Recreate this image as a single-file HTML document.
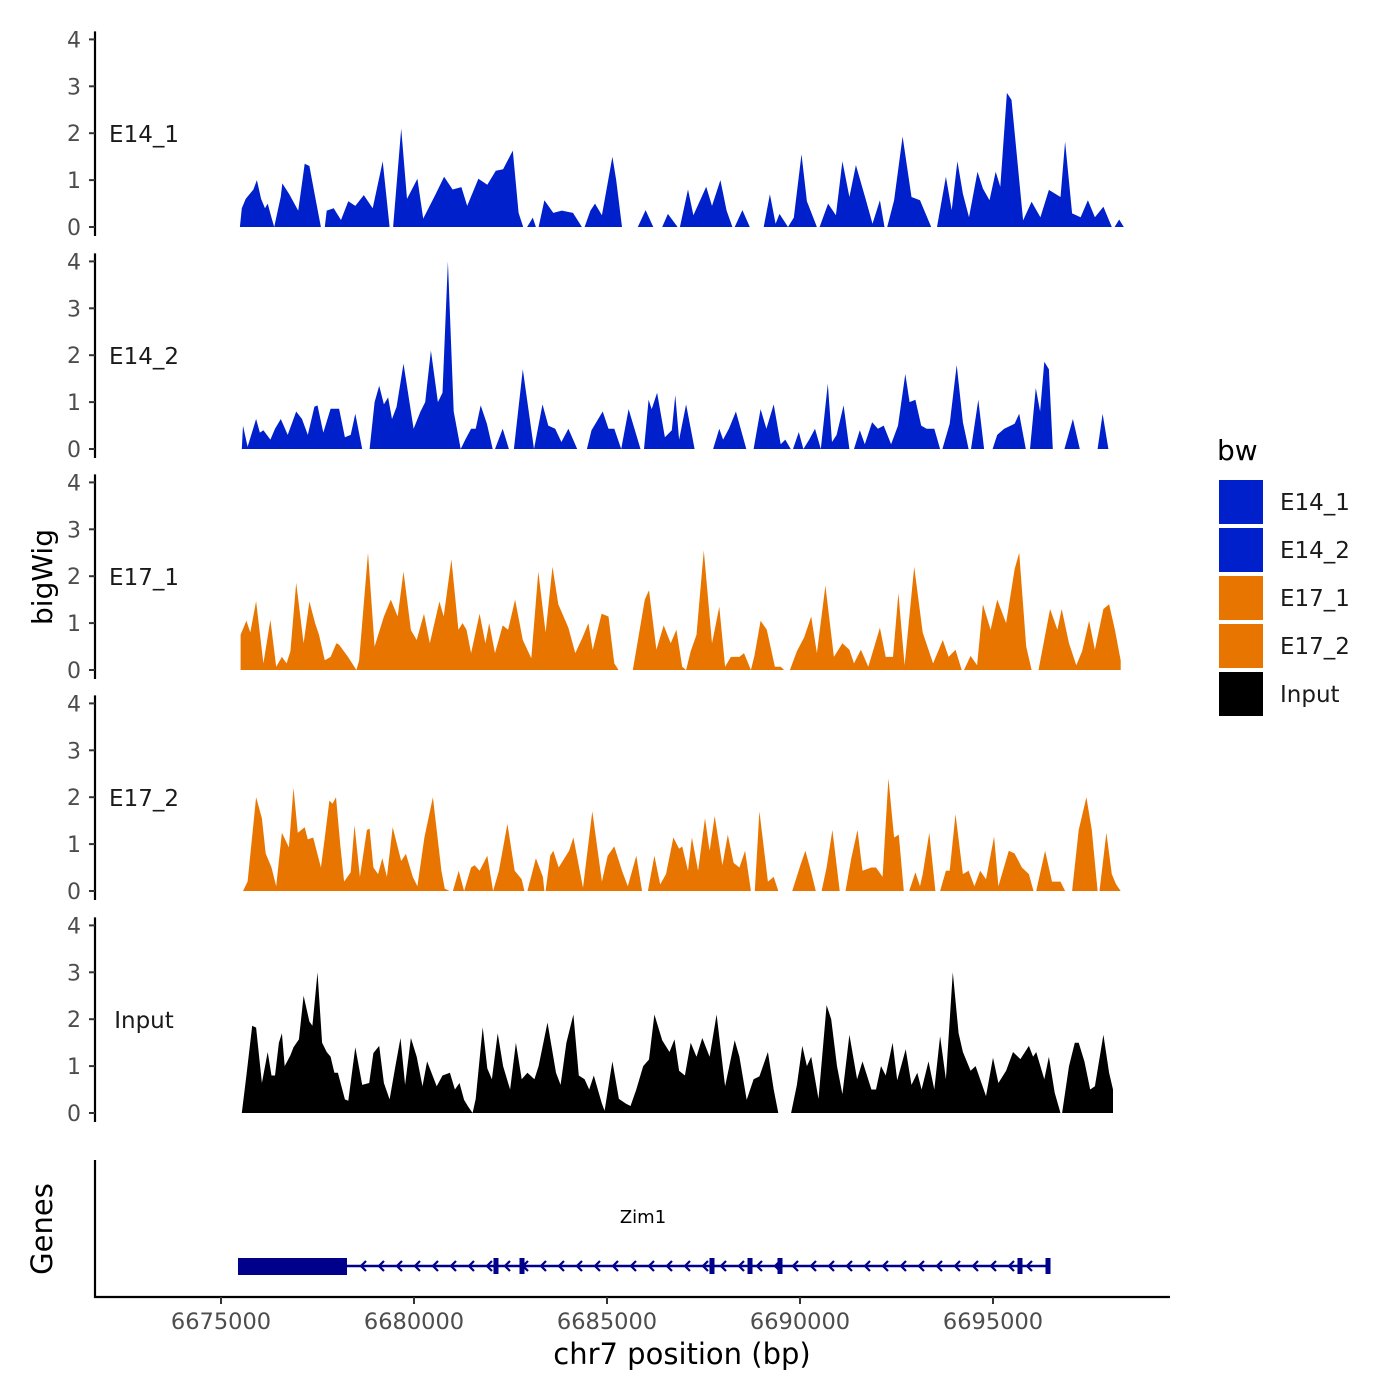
<!DOCTYPE html>
<html><head><meta charset="utf-8"><style>
body{margin:0;background:#fff}
svg{display:block}
text{font-family:"DejaVu Sans","Liberation Sans",sans-serif}
</style></head><body>
<svg id="chart" width="1400" height="1400" viewBox="0 0 1400 1400" xmlns="http://www.w3.org/2000/svg">
<g id="panels"></g>
<g id="genes"></g>
<g id="legend"></g>
<text transform="translate(52,577) rotate(-90)" text-anchor="middle" font-size="28">bigWig</text>
<text transform="translate(52,1229) rotate(-90)" text-anchor="middle" font-size="29">Genes</text>
<text x="682" y="1364" text-anchor="middle" font-size="29">chr7 position (bp)</text>
</svg>
<script>
const NS="http://www.w3.org/2000/svg";
const trackNames=["E14_1","E14_2","E17_1","E17_2","Input"];
const trackColors=["#0020CC","#0020CC","#E87500","#E87500","#000000"];
const yTicks=[0,1,2,3,4];
const xTicks=[6675000,6680000,6685000,6690000,6695000];
const axisStartBp=6675000;
// track positions are kb offsets from this origin (bp); null = gap
const dataOriginBp=6675389;
const pos1=[0.10,0.15,0.25,0.45,0.54,0.65,0.75,0.82,0.92,0.99,1.16,1.20,1.38,1.61,1.78,1.90,2.05,2.20,null,2.30,2.35,2.53,2.72,2.91,3.09,3.31,3.54,3.80,3.98,null,4.07,4.28,4.43,4.70,4.85,5.17,5.39,5.61,5.84,5.99,6.28,6.51,6.73,6.92,7.17,7.32,7.44,null,7.54,7.69,7.77,null,7.84,7.99,8.22,8.44,8.73,8.96,null,9.03,9.18,9.30,9.48,9.75,9.85,10.00,null,10.41,10.61,10.81,null,11.04,11.19,11.44,null,11.50,11.71,11.85,12.18,12.33,12.55,12.71,12.86,null,12.92,13.12,13.31,null,13.67,13.83,13.98,14.08,14.30,14.45,14.65,14.79,15.05,null,15.12,15.34,15.54,15.71,15.89,16.06,16.31,16.49,16.68,16.80,null,16.87,17.05,17.27,17.50,17.72,18.01,null,18.16,18.39,18.54,18.69,18.83,18.99,19.21,19.35,19.52,19.68,19.80,19.97,20.09,20.39,20.61,20.84,21.06,21.36,21.48,21.66,21.88,22.07,22.25,22.47,22.69,null,22.76,22.88,23.0];
const val1=[0,0.4,0.6,0.8,1.0,0.6,0.4,0.5,0.2,0,0.65,0.93,0.7,0.35,1.35,1.3,0.65,0,null,0,0.35,0.4,0.15,0.55,0.45,0.68,0.4,1.4,0,null,0,2.1,0.6,1.03,0.18,0.7,1.07,0.8,0.85,0.45,1.03,0.9,1.2,1.23,1.63,0.3,0,null,0,0.2,0,null,0,0.57,0.3,0.35,0.3,0,null,0,0.35,0.5,0.25,1.5,1.0,0,null,0,0.36,0,null,0,0.28,0,null,0,0.8,0.25,0.86,0.45,1.0,0.35,0,null,0,0.36,0,null,0,0.7,0.07,0.28,0,0.2,1.55,0.55,0,null,0,0.5,0.25,1.4,0.64,1.32,0.6,0.07,0.57,0,null,0,0.57,1.93,0.64,0.57,0,null,0,1.07,0.36,1.4,0.71,0.21,1.18,0.82,0.57,1.18,0.86,2.86,2.71,0.14,0.54,0.21,0.79,0.64,1.82,0.29,0.21,0.57,0.21,0.43,0,null,0,0.16,0];
const pos2=[0.15,0.18,0.30,0.52,0.62,0.71,0.89,1.01,1.16,1.34,1.56,1.71,1.86,2.03,2.11,2.26,2.45,2.67,2.82,2.97,3.09,3.27,null,3.46,3.59,3.71,3.83,3.94,4.04,4.16,4.34,4.60,4.78,4.90,5.05,5.23,5.35,5.49,5.64,5.82,5.94,6.09,6.21,6.34,6.50,6.65,null,6.71,6.91,7.07,null,7.20,7.43,7.72,7.94,8.09,8.27,8.43,8.61,8.84,null,9.09,9.21,9.50,9.65,9.80,9.98,10.17,10.48,null,10.57,10.69,10.77,10.91,11.11,11.29,11.38,11.48,11.66,11.88,null,12.36,12.52,12.62,12.77,12.95,13.22,null,13.41,13.59,13.74,13.93,14.11,14.23,14.37,null,14.43,14.58,14.70,14.85,15.00,15.15,15.33,15.44,15.56,15.74,15.89,null,16.01,16.16,16.29,16.48,16.63,16.78,16.97,17.15,17.34,17.45,17.60,17.75,17.89,18.09,18.24,null,18.30,18.49,18.67,18.83,18.98,null,19.04,19.23,19.38,null,19.60,19.72,19.90,20.17,20.29,20.46,20.57,20.72,20.83,20.94,21.06,21.16,null,21.46,21.68,21.86,null,22.32,22.45,22.60];
const val2=[0,0.5,0.05,0.64,0.35,0.4,0.2,0.43,0.64,0.3,0.8,0.64,0.3,0.9,0.93,0.35,0.86,0.86,0.25,0.3,0.75,0,null,0,1.0,1.35,0.95,1.1,0.64,0.9,1.82,0.43,0.8,1.0,2.1,1.0,1.2,4.0,0.8,0,0.2,0.43,0.43,0.93,0.54,0,null,0,0.43,0,null,0,1.7,0,0.95,0.5,0.43,0.15,0.43,0,null,0,0.4,0.8,0.43,0.43,0,0.85,0,null,0,1.05,0.85,1.2,0.25,0.4,1.15,0.2,0.95,0,null,0,0.43,0.2,0.43,0.8,0,null,0,0.85,0.43,0.95,0.1,0.2,0,null,0,0.36,0,0.2,0.43,0,1.39,0.15,0.3,0.93,0,null,0,0.4,0.1,0.57,0.43,0.5,0.1,0.5,1.6,1.0,1.05,0.5,0.43,0.43,0,null,0,0.54,1.79,0.57,0,null,0,1.05,0,null,0,0.3,0.43,0.54,0.75,0,0,1.3,0.8,1.86,1.7,0,null,0,0.64,0,null,0,0.75,0];
const pos3=[0.12,0.27,0.37,0.52,0.71,0.89,1.04,1.19,1.31,1.41,1.56,1.75,1.90,2.05,2.15,2.30,2.45,2.60,2.67,2.90,3.12,3.19,3.42,3.59,3.83,4.01,4.19,4.34,4.53,4.68,4.87,5.02,5.27,5.38,5.58,5.76,5.87,5.97,6.09,6.31,6.46,6.56,6.71,6.91,7.05,7.23,7.43,7.65,7.83,8.02,8.20,8.35,8.61,8.79,8.98,9.13,9.24,9.47,9.65,9.80,9.91,null,10.28,10.37,10.59,10.70,10.89,11.08,11.26,11.41,11.56,11.66,11.78,11.93,12.12,12.33,12.52,12.67,12.82,13.04,13.16,13.34,13.43,13.59,13.75,13.96,14.11,14.20,null,14.35,14.53,14.72,14.90,15.05,15.27,15.49,15.71,15.89,16.01,16.19,16.38,16.68,16.83,17.02,17.16,17.32,17.57,17.79,18.06,18.31,18.46,18.64,18.80,null,18.86,19.03,19.20,19.35,19.55,19.72,19.95,20.17,20.29,20.47,20.61,null,20.79,21.09,21.28,21.39,21.58,21.77,21.92,22.10,22.25,22.47,22.62,22.77,22.92];
const val3=[0.75,1.05,0.8,1.47,0.14,1.07,0.07,0.28,0.14,0.4,1.86,0.57,1.46,1.0,0.75,0.21,0.28,0.57,0.54,0.28,0,0.2,2.5,0.5,1.14,1.5,1.14,2.1,0.85,0.64,1.2,0.57,1.46,1.14,2.36,0.86,1.0,0.86,0.36,1.2,0.57,1.0,0.36,0.95,0.86,1.5,0.64,0.25,2.1,0.8,2.2,1.4,0.9,0.36,0.7,1.0,0.43,1.2,1.14,0.14,0,null,0,0.43,1.5,1.7,0.43,0.95,0.57,0.86,0.07,0,0.4,0.75,2.55,0.57,1.35,0.07,0.28,0.28,0.36,0,0.3,1.05,0.86,0.07,0.07,0,null,0,0.4,0.7,1.14,0.36,1.8,0.28,0.57,0.43,0.14,0.43,0.07,0.9,0.28,0.28,1.64,0.1,2.2,0.8,0.14,0.64,0.28,0.43,0,null,0,0.3,0.1,1.4,0.86,1.5,1.0,2.15,2.5,0.5,0,null,0,1.3,0.86,1.3,0.57,0.1,0.4,1.05,0.43,1.3,1.4,0.86,0.2];
const pos4=[0.18,0.30,0.52,0.67,0.77,0.92,1.04,1.19,1.37,1.49,1.60,1.78,1.86,2.00,2.20,2.30,2.42,2.50,2.59,2.70,2.80,2.97,3.07,3.21,3.39,3.46,3.56,3.68,3.79,3.91,4.06,4.28,4.40,4.58,4.70,4.88,5.10,5.32,5.41,5.53,null,5.62,5.77,5.91,6.09,6.18,6.31,6.51,6.66,6.81,7.03,7.22,7.40,7.47,null,7.55,7.77,7.95,7.99,null,8.02,8.14,8.22,8.36,8.63,8.74,8.99,9.23,9.48,9.63,9.80,10.00,10.15,10.37,10.52,null,10.67,10.84,10.99,11.14,11.33,11.48,11.56,11.71,11.81,11.97,12.15,12.27,12.40,12.60,12.74,12.89,13.04,13.19,13.34,null,13.44,13.56,13.78,13.93,14.05,null,14.41,14.63,14.75,14.90,15.02,null,15.17,15.30,15.45,15.64,null,15.79,15.94,16.10,16.23,16.46,16.58,16.75,16.90,17.05,17.17,17.30,null,17.44,17.60,17.72,17.79,17.96,18.12,null,18.24,18.39,18.49,18.64,18.83,18.98,19.13,19.28,19.43,19.64,19.75,20.02,20.17,20.36,20.54,20.66,null,20.73,20.96,21.14,21.36,21.48,null,21.66,21.83,22.03,22.17,22.32,null,22.37,22.55,22.69,22.80,22.92];
const val4=[0,0.2,2.0,1.55,0.8,0.5,0.1,1.24,0.93,2.2,1.24,1.36,1.1,1.14,0.5,1.14,1.93,1.86,2.0,1.0,0.2,0.4,1.4,0.3,1.3,1.33,0.5,0.36,0.7,0.3,1.36,0.64,0.79,0.3,0.1,1.14,2.0,0.43,0.05,0,null,0,0.43,0,0.5,0.55,0.43,0.75,0,0.43,1.43,0.43,0.25,0,null,0,0.7,0.3,0,null,0,0.75,0.86,0.5,0.86,1.14,0.07,1.7,0.2,0.75,0.95,0.43,0.1,0.75,0,null,0,0.75,0.14,0.36,1.14,0.9,0.95,0.43,1.14,0.43,1.55,0.86,1.6,0.55,1.2,0.6,0.5,0.86,0,null,0,1.7,0.2,0.3,0,null,0,0.57,0.86,0.4,0,null,0,0.5,1.3,0,null,0,0.7,1.3,0.43,0.5,0.5,0.3,2.4,1.14,1.2,0,null,0,0.4,0.1,0.36,1.24,0,null,0,0.43,0.43,1.64,0.36,0.43,0.1,0.43,0.25,1.16,0.1,0.86,0.8,0.5,0.36,0,null,0,0.86,0.2,0.2,0,null,0,1.3,2.0,1.3,0,null,0,1.24,0.36,0.14,0];
const pos5=[0.15,0.27,0.42,0.52,0.67,0.82,0.92,1.01,1.11,1.19,1.26,1.41,1.49,1.63,1.75,1.90,1.98,2.11,2.23,2.35,2.45,2.55,2.64,2.82,2.91,3.09,3.27,3.45,3.56,3.71,3.83,3.98,4.13,4.26,4.38,4.53,4.68,4.83,4.95,5.20,5.35,5.54,5.67,5.79,5.91,6.01,6.13,6.21,6.39,6.51,6.63,6.78,6.92,7.10,7.25,7.40,7.55,7.73,7.84,8.07,8.29,8.41,8.56,8.74,8.88,9.03,9.15,9.27,9.48,9.55,9.75,9.92,10.10,10.22,10.37,10.55,10.70,10.84,11.04,11.23,11.36,11.48,11.63,11.78,11.93,12.08,12.27,12.45,12.67,12.78,12.92,13.04,13.23,13.41,13.56,13.78,13.93,14.05,null,14.38,14.53,14.67,14.79,14.90,15.09,15.30,15.42,15.57,15.71,15.89,16.09,16.23,16.46,16.58,16.71,16.83,17.01,17.13,17.35,17.50,17.65,17.76,17.94,18.09,18.24,18.39,18.57,18.72,18.83,19.03,19.16,19.43,19.61,19.75,19.95,20.13,20.32,20.54,20.65,20.73,20.94,21.06,21.21,21.36,null,21.40,21.58,21.73,21.83,21.98,22.13,22.25,22.47,22.62,22.72];
const val5=[0,0.8,1.86,1.82,0.64,1.3,0.8,0.8,1.5,1.7,1.0,1.23,1.4,1.57,2.5,1.95,1.86,3.0,1.5,1.3,1.2,0.86,0.86,0.29,0.26,1.4,0.6,0.64,1.28,1.43,0.64,0.29,1.0,1.6,0.6,1.6,1.2,0.57,1.1,0.57,0.8,0.86,0.5,0.64,0.28,0.14,0,0.3,1.83,0.95,0.72,1.7,1.0,0.5,1.5,0.72,0.86,0.72,1.0,1.93,0.86,0.6,1.5,2.1,0.8,0.72,0.5,0.8,0.2,0.05,1.1,0.3,0.2,0.15,0.5,1.0,1.14,2.1,1.55,1.3,1.57,0.9,0.8,1.5,1.2,1.6,1.2,2.1,0.57,1.0,1.55,1.2,0.28,0.72,0.78,1.3,0.5,0,null,0,0.6,1.43,1.0,1.2,0.3,2.3,2.0,1.0,0.4,1.67,0.72,1.1,0.5,0.5,1.0,0.8,1.5,0.7,1.36,0.6,0.86,0.5,1.1,0.5,1.64,0.72,3.0,1.7,1.3,0.9,1.0,0.36,1.18,0.64,0.9,1.3,1.15,1.43,1.2,1.3,0.72,1.2,0.43,0,null,0,1.0,1.5,1.5,1.1,0.5,0.57,1.67,0.86,0.5];
const trackPos=[pos1,pos2,pos3,pos4,pos5];
const trackVal=[val1,val2,val3,val4,val5];
// gene model (bp)
const geneStart=6675440, geneEnd=6696425, cdsEnd=6678264;
const exonTicks=[6682124,6682798,6687720,6688705,6689482,6695699,6696425];
const geneName="Zim1";

const pxPerBp=0.0386, x0=221;
function xScale(bp){return x0+(bp-axisStartBp)*pxPerBp;}
function xData(kb){return xScale(dataOriginBp+kb*1000);}
const panelZero=[227,449,670,891,1113], unitPx=46.9;
function yScale(p,v){return panelZero[p]-v*unitPx;}

const panels=document.getElementById('panels');
function mk(tag,attrs,parent){const e=document.createElementNS(NS,tag);for(const k in attrs)e.setAttribute(k,attrs[k]);parent.appendChild(e);return e;}

for(let p=0;p<5;p++){
  const g=mk('g',{},panels);
  
  
  const ax=mk('line',{x1:95,x2:95,y1:yScale(p,4)-8,y2:yScale(p,0)+9,stroke:'#000','stroke-width':2.2},g);
  
  
  yTicks.forEach(t=>{
    const y=yScale(p,t);
    const tk=mk('line',{x1:89,x2:95,y1:y,y2:y,stroke:'#333','stroke-width':2},g);
    
    
    const tl=mk('text',{x:81,y:y+8,'text-anchor':'end','font-size':22,fill:'#4d4d4d'},g);
    tl.textContent=t;
    
    
  });
  const lab=mk('text',{x:144,y:yScale(p,2)+9,'text-anchor':'middle','font-size':23,fill:'#1a1a1a'},g);
  lab.textContent=trackNames[p];
  
  
  const P=trackPos[p],V=trackVal[p];
  let d='',seg=[];
  function flush(){if(seg.length<2){seg=[];return;}
    d+='M'+xData(seg[0][0]).toFixed(1)+','+yScale(p,0);
    seg.forEach(s=>{d+='L'+xData(s[0]).toFixed(1)+','+yScale(p,s[1]).toFixed(1);});
    d+='L'+xData(seg[seg.length-1][0]).toFixed(1)+','+yScale(p,0)+'Z';seg=[];}
  for(let i=0;i<P.length;i++){if(P[i]===null){flush();continue;}seg.push([P[i],V[i]]);}
  flush();
  const area=mk('path',{d:d,fill:trackColors[p]},g);
  
  
}

// gene panel
const gg=document.getElementById('genes');
const gax=mk('line',{x1:95,x2:95,y1:1160,y2:1298,stroke:'#000','stroke-width':2.2},gg);


const xax=mk('line',{x1:94,x2:1170,y1:1297,y2:1297,stroke:'#000','stroke-width':2.2},gg);


xTicks.forEach(t=>{
  const x=xScale(t);
  const tk=mk('line',{x1:x,x2:x,y1:1297,y2:1304,stroke:'#333','stroke-width':2},gg);
  
  
  const tl=mk('text',{x:x,y:1329,'text-anchor':'middle','font-size':22.5,fill:'#4d4d4d'},gg);
  tl.textContent=t;
  
  
});
const gy=1266, gc='#00008B';
const gl=mk('line',{x1:xScale(geneStart),x2:xScale(geneEnd),y1:gy,y2:gy,stroke:gc,'stroke-width':2.5},gg);


const cds=mk('rect',{x:xScale(geneStart),y:gy-8,width:xScale(cdsEnd)-xScale(geneStart),height:17,fill:gc},gg);


for(let x=xScale(cdsEnd)+14;x<xScale(geneEnd)-6;x+=18){
  const a=mk('path',{d:`M${x+5},${gy-5}L${x},${gy}L${x+5},${gy+5}`,stroke:gc,'stroke-width':2.2,fill:'none'},gg);
  
  
}
exonTicks.forEach(b=>{
  const e=mk('rect',{x:xScale(b)-2.5,y:gy-8,width:5,height:16,fill:gc},gg);
  
  
});
const gn=mk('text',{x:643,y:1223,'text-anchor':'middle','font-size':18,fill:'#000'},gg);
gn.textContent=geneName;



// legend
const lg=document.getElementById('legend');
const lt=mk('text',{x:1217,y:460,'font-size':28,fill:'#000'},lg);
lt.textContent='bw';


trackNames.forEach((n,i)=>{
  const y=480+i*48;
  const r=mk('rect',{x:1219,y:y,width:44,height:44,fill:trackColors[i]},lg);
  
  
  const t=mk('text',{x:1280,y:y+30,'font-size':23,fill:'#1a1a1a'},lg);
  t.textContent=n;
  
  
});
</script>
</body></html>
